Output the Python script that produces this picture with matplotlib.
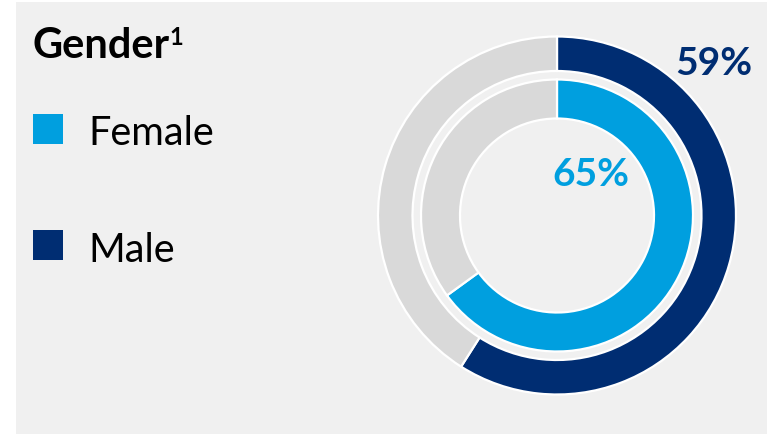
import matplotlib
matplotlib.use("Agg")
import matplotlib.pyplot as plt
from matplotlib.patches import Rectangle

# Share of each gender (percent)
categories = ["Female", "Male"]
shares = [65, 59]
title = "Gender"
footnote = "1"

NAVY = "#002D72"
SKY = "#009FDF"
TRACK = "#D9D9D9"
PANEL = "#F0F0F0"
colors = {"Female": SKY, "Male": NAVY}

W, H = 767, 435
fig = plt.figure(figsize=(W / 100, H / 100), dpi=100)
ax = fig.add_axes([0, 0, 1, 1])

def Y(top):
    """Convert a top-down pixel row to the axes' upward y coordinate."""
    return H - top

# Background panel
ax.add_patch(Rectangle((16, 0), W - 16, H - 3, facecolor=PANEL, edgecolor="none", zorder=0))

cx, cy = 557, Y(216.5)
female, male = shares[categories.index("Female")], shares[categories.index("Male")]

# Outer ring: male share
ax.pie([male, 100 - male], colors=[NAVY, TRACK], startangle=90, counterclock=False,
       radius=179, center=(cx, cy), frame=True,
       wedgeprops=dict(width=34.5, edgecolor="white", linewidth=1.6))
# Inner ring: female share
ax.pie([female, 100 - female], colors=[SKY, TRACK], startangle=90, counterclock=False,
       radius=136, center=(cx, cy), frame=True,
       wedgeprops=dict(width=39, edgecolor="white", linewidth=1.6))

ax.set_xlim(0, W)
ax.set_ylim(0, H)
ax.set_aspect("auto")
ax.axis("off")

font = "Lato"

# Title with footnote marker placed right after it
t = ax.text(33, Y(58), title, fontsize=30, fontweight="bold", family=font,
            color="black", ha="left", va="baseline")
renderer = fig.canvas.get_renderer()
bb = t.get_window_extent(renderer)
ax.text(bb.x1 - 1, Y(58) + 13, footnote, fontsize=17, fontweight="bold", family=font,
        color="black", ha="left", va="baseline")

# Legend
legend_rows = {"Female": (115, 145), "Male": (231, 262)}
for name in categories:
    top, base = legend_rows[name]
    ax.add_patch(Rectangle((33, Y(top + 30)), 30, 30, facecolor=colors[name],
                           edgecolor="none", zorder=3))
    ax.text(88, Y(base), name, fontsize=28.5, family=font, color="black",
            ha="left", va="baseline")

# Value labels
ax.text(714, Y(75), f"{male}%", fontsize=28, fontweight="bold", family=font,
        color=NAVY, ha="center", va="baseline")
ax.text(591, Y(186), f"{female}%", fontsize=28, fontweight="bold", family=font,
        color=SKY, ha="center", va="baseline")

fig.savefig("out.png", dpi=100, facecolor="white")
